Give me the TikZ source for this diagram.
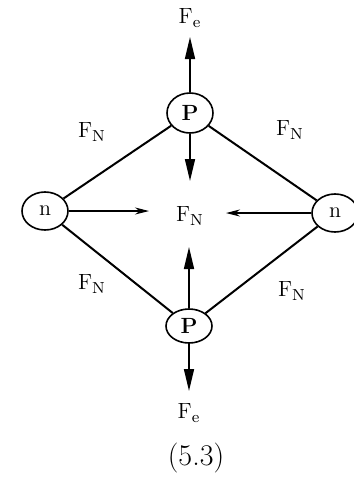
\documentclass[tikz,border=0pt]{standalone}
\usetikzlibrary{shapes.geometric,arrows.meta}
\begin{document}
\begin{tikzpicture}[x=0.5pt,y=-0.5pt,
  every node/.style={font=\fontsize{11}{13}\selectfont},
  body/.style={draw,ellipse,line width=0.8pt,inner sep=1pt,minimum width=23pt,minimum height=19pt},
  bond/.style={line width=1pt},
  force/.style={line width=0.8pt,-{Triangle[length=11pt,width=5pt]}},
  push/.style={line width=0.6pt,-{Stealth[length=7pt,width=3.5pt]}}]
  \useasboundingbox (0,0) rectangle (354,494);

  % Define the bodies
  \node[body,minimum height=20pt] (Ptop) at (190,113) {\textbf{P}}; % upper P
  \node[body,minimum height=17pt] (Pbot) at (189,326) {\textbf{P}}; % lower P
  \node[body] (nleft) at (45,211) {n};   % left n
  \node[body] (nright) at (335,213) {n}; % right n

  % Draw the bonds
  \draw[bond] (Ptop) -- (nleft);
  \draw[bond] (Ptop) -- (nright);
  \draw[bond] (Pbot) -- (nleft);
  \draw[bond] (Pbot) -- (nright);

  % Labels on the bonds
  \node (lblTL) at (92,132) {F$_{\mathrm N}$};
  \node (lblTR) at (290,130) {F$_{\mathrm N}$};
  \node (lblBL) at (92,284) {F$_{\mathrm N}$};
  \node (lblBR) at (292,291) {F$_{\mathrm N}$};

  % Centre label
  \node (centre) at (190,216) {F$_{\mathrm N}$};

  % Arrow ends
  \coordinate (topTip) at (190,37);
  \coordinate (topIn) at (190,181);
  \coordinate (botIn) at (189,247);
  \coordinate (botTip) at (189,391);
  \coordinate (leftIn) at (149,211);
  \coordinate (rightIn) at (226,213);

  % Outward forces
  \draw[force] (Ptop) -- (topTip);
  \draw[force] (Pbot) -- (botTip);
  \node (FeTop) at (190,18) {F$_{\mathrm e}$};
  \node (FeBot) at (189,413) {F$_{\mathrm e}$};

  % Inward forces
  \draw[force] (Ptop) -- (topIn);
  \draw[force] (Pbot) -- (botIn);
  \draw[push] (nleft) -- (leftIn);
  \draw[push] (nright) -- (rightIn);

  % Figure number
  \node (fignum) at (196,458) {\fontsize{15}{17}\selectfont (5.3)};
\end{tikzpicture}
\end{document}
